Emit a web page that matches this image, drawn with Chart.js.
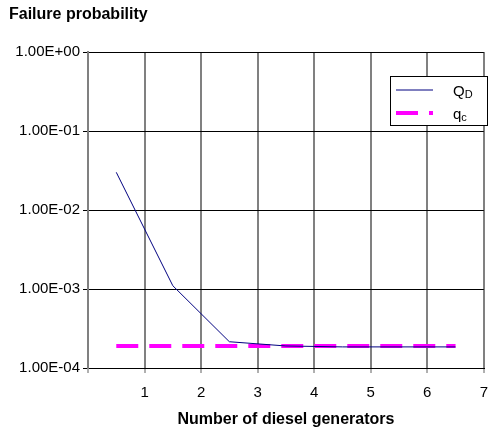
<!DOCTYPE html>
<html>
<head>
<meta charset="utf-8">
<script src="https://cdn.jsdelivr.net/npm/chart.js@4.4.1/dist/chart.umd.min.js"></script>
<style>
  html, body { margin: 0; padding: 0; background: #fff; }
  #wrap { width: 499px; height: 430px; position: relative; }
</style>
</head>
<body>
<div id="wrap"><canvas id="chart"></canvas></div>
<script>
// number of diesel generators (points sit in the middle of each unit)
const generators = [0.5, 1.5, 2.5, 3.5, 4.5, 5.5, 6.5];
const failureQD = [3.0e-2, 1.1e-3, 2.15e-4, 1.9e-4, 1.85e-4, 1.85e-4, 1.85e-4];
const failureQc = [1.9e-4, 1.9e-4, 1.9e-4, 1.9e-4, 1.9e-4, 1.9e-4, 1.9e-4];
const yTickValues = [1e-4, 1e-3, 1e-2, 1e-1, 1];
const xTickValues = [1, 2, 3, 4, 5, 6, 7];
// label main part + subscript
const seriesLabels = [['Q', 'D'], ['q', 'c']];

const FONT = 'Arial, "Liberation Sans", sans-serif';

function toPoints(xs, ys) {
    return xs.map((x, i) => ({ x: x, y: ys[i] }));
}

function fmtExp(v) {
    const e = Math.round(Math.log10(v));
    const sign = e < 0 ? '-' : '+';
    return '1.00E' + sign + String(Math.abs(e)).padStart(2, '0');
}

// chart title at top left + boxed legend with subscripts
const decorations = {
    id: 'decorations',
    afterDraw(chart) {
        const ctx = chart.ctx;
        ctx.save();
        ctx.fillStyle = '#000';
        ctx.font = 'bold 16px ' + FONT;
        ctx.textBaseline = 'middle';
        ctx.textAlign = 'left';
        ctx.fillText('Failure probability', 9, 15);

        // legend box
        const bx = 390, by = 76, bw = 97, bh = 49;
        ctx.fillStyle = '#fff';
        ctx.fillRect(bx, by, bw, bh);
        ctx.strokeStyle = '#000';
        ctx.lineWidth = 1;
        ctx.strokeRect(bx + 0.5, by + 0.5, bw, bh);

        chart.data.datasets.forEach((ds, i) => {
            const ly = by + 14 + i * 23;
            ctx.beginPath();
            ctx.strokeStyle = ds.borderColor;
            ctx.lineWidth = ds.borderWidth;
            ctx.setLineDash(ds.borderDash || []);
            ctx.moveTo(396, ly);
            ctx.lineTo(433, ly);
            ctx.stroke();
            ctx.setLineDash([]);

            const [main, sub] = seriesLabels[i];
            ctx.fillStyle = '#000';
            ctx.textBaseline = 'alphabetic';
            ctx.font = '15px ' + FONT;
            const tx = 453;
            const base = ly + 6;
            ctx.fillText(main, tx, base);
            const w = ctx.measureText(main).width;
            ctx.font = '11px ' + FONT;
            ctx.fillText(sub, tx + w, base + 2);
        });
        ctx.restore();
    }
};

new Chart(document.getElementById('chart'), {
    type: 'line',
    data: {
        datasets: [
            {
                label: 'QD',
                data: toPoints(generators, failureQD),
                borderColor: '#000080',
                borderWidth: 1,
                pointRadius: 0,
                tension: 0,
                fill: false
            },
            {
                label: 'qc',
                data: toPoints(generators, failureQc),
                borderColor: '#ff00ff',
                borderWidth: 4,
                borderDash: [22, 11],
                pointRadius: 0,
                tension: 0,
                fill: false
            }
        ]
    },
    options: {
        responsive: true,
        maintainAspectRatio: false,
        animation: false,
        layout: { padding: { top: 52, right: 5, left: 0, bottom: 0 } },
        plugins: {
            legend: { display: false },
            title: { display: false },
            tooltip: { enabled: false }
        },
        scales: {
            x: {
                type: 'linear',
                min: 0,
                max: 7,
                afterBuildTicks: s => { s.ticks = [0].concat(xTickValues).map(v => ({ value: v })); },
                afterFit: s => { s.height = 62; },
                grid: {
                    color: '#808080',
                    lineWidth: 2,
                    tickLength: 5,
                    tickColor: '#606060',
                    tickWidth: 1
                },
                border: { color: '#000', width: 1 },
                ticks: {
                    color: '#000',
                    padding: 11,
                    maxRotation: 0,
                    font: { family: FONT, size: 15 },
                    callback: v => (v === 0 ? '' : String(v))
                },
                title: {
                    display: true,
                    text: 'Number of diesel generators',
                    color: '#000',
                    font: { family: FONT, size: 16, weight: 'bold' },
                    padding: { top: 0, bottom: 1 }
                }
            },
            y: {
                type: 'logarithmic',
                min: 1e-4,
                max: 1,
                afterBuildTicks: s => { s.ticks = yTickValues.map(v => ({ value: v })); },
                afterFit: s => { s.width = 88; },
                grid: {
                    color: '#000',
                    lineWidth: 1,
                    tickLength: 5,
                    tickColor: '#000'
                },
                border: { color: '#808080', width: 2 },
                ticks: {
                    color: '#000',
                    padding: 3,
                    font: { family: FONT, size: 15 },
                    callback: v => fmtExp(v)
                }
            }
        }
    },
    plugins: [decorations]
});
</script>
</body>
</html>
